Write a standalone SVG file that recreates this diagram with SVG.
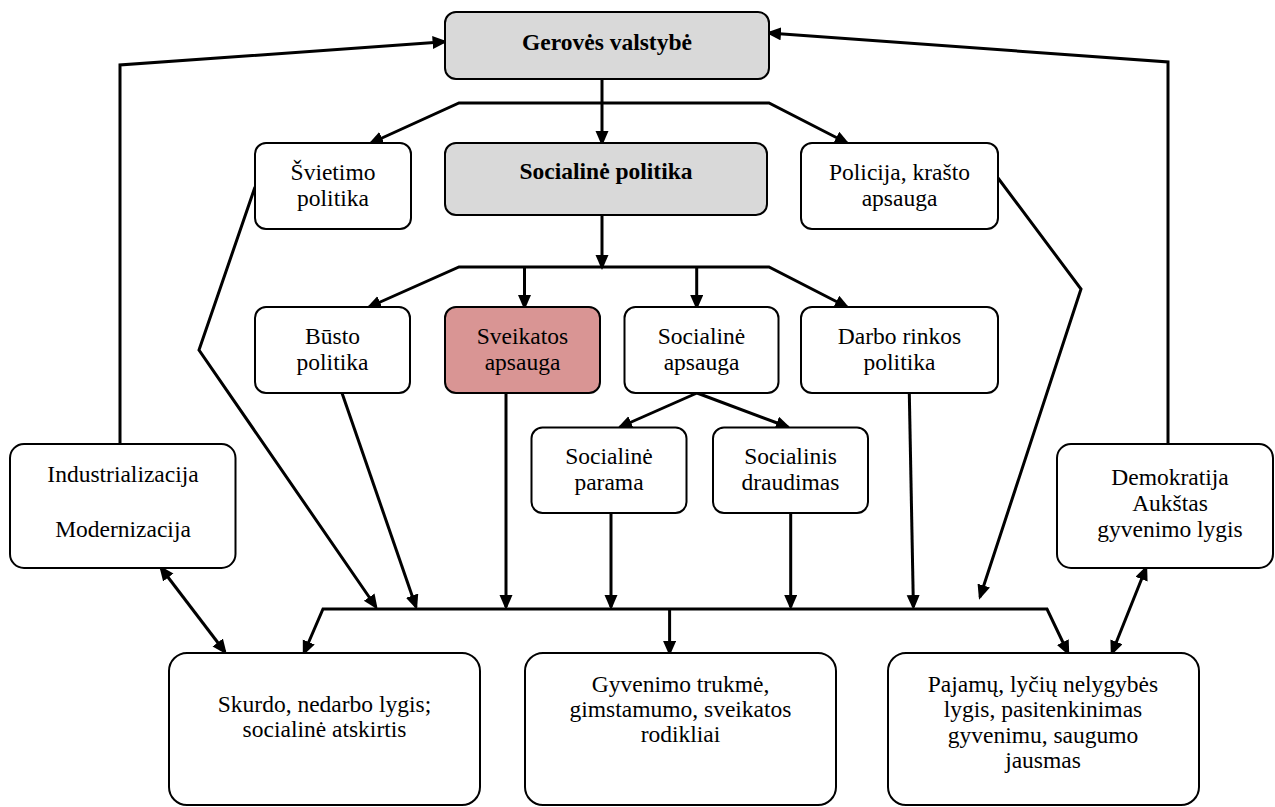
<svg xmlns="http://www.w3.org/2000/svg" width="1275" height="807" viewBox="0 0 1275 807" font-family="'Liberation Serif', 'Times New Roman', 'DejaVu Serif', serif">
<defs>
<marker id="ah" markerUnits="userSpaceOnUse" markerWidth="16" markerHeight="14" refX="12" refY="6.5" orient="auto-start-reverse">
<path d="M0,0 L15,6.5 L0,13 z" fill="#000"/>
</marker>
<style>
.box{fill:#fff;stroke:#000;stroke-width:2}
.gray{fill:#d9d9d9}
.pink{fill:#d99594}
.t{font-family:'Liberation Serif','Times New Roman','DejaVu Serif',serif;font-size:23.5px;fill:#000;text-anchor:middle}
.b{font-weight:bold}
.c{fill:none;stroke:#000;stroke-width:3;stroke-linejoin:miter}
.a{marker-end:url(#ah)}
.d{marker-start:url(#ah);marker-end:url(#ah)}
</style>
</defs>
<rect width="1275" height="807" fill="#fff"/>
<g id="connectors">
<path class="c a" d="M602,79 L602,143"/>
<path class="c d" d="M847,143 L769,103 L459,103 L371,143"/>
<path class="c a" d="M602,215 L602,267"/>
<path class="c d" d="M847,307 L769,267 L459,267 L369,307"/>
<path class="c a" d="M524.5,267 L524.5,307"/>
<path class="c a" d="M696.7,267 L696.7,307"/>
<path class="c a" d="M697,393 L620,427"/>
<path class="c a" d="M697,393 L788,427"/>
<path class="c d" d="M1068,653 L1047,609 L323,609 L304,653"/>
<path class="c a" d="M669.6,609 L669.6,653"/>
<path class="c a" d="M255,187 L199,350 L376,607"/>
<path class="c a" d="M342,393 L416,607"/>
<path class="c a" d="M506,393 L506,607"/>
<path class="c a" d="M611,513 L611,607"/>
<path class="c a" d="M790.7,513 L790.7,607"/>
<path class="c a" d="M909.3,393 L913.4,607"/>
<path class="c a" d="M998,178 L1081,289 L980,597"/>
<path class="c a" d="M120,444 L120,65 L444.6,41.7"/>
<path class="c a" d="M1168,444 L1168,62 L769,33"/>
<path class="c d" d="M161,568 L225,652"/>
<path class="c d" d="M1146,568 L1112,653"/>
</g>
<g id="n-gerove">
<rect class="box gray" x="445" y="12" width="324" height="67" rx="11"/>
<text class="t b" x="607" y="49.5">Gerovės valstybė</text>
</g>
<g id="n-socpol">
<rect class="box gray" x="445" y="143" width="322" height="72" rx="11"/>
<text class="t b" x="606" y="179">Socialinė politika</text>
</g>
<g id="n-svietimo">
<rect class="box" x="255" y="143" width="156" height="86" rx="11"/>
<text class="t" x="333" y="179.5">Švietimo</text>
<text class="t" x="333" y="206">politika</text>
</g>
<g id="n-policija">
<rect class="box" x="801" y="143" width="197" height="86" rx="11"/>
<text class="t" x="899.5" y="179.5">Policija, krašto</text>
<text class="t" x="899.5" y="206">apsauga</text>
</g>
<g id="n-busto">
<rect class="box" x="255" y="307" width="155" height="86" rx="11"/>
<text class="t" x="332.5" y="343.5">Būsto</text>
<text class="t" x="332.5" y="370">politika</text>
</g>
<g id="n-sveikatos">
<rect class="box pink" x="445" y="307" width="155" height="86" rx="11"/>
<text class="t" x="522.5" y="343.5">Sveikatos</text>
<text class="t" x="522.5" y="370">apsauga</text>
</g>
<g id="n-socapsauga">
<rect class="box" x="624.5" y="307" width="154" height="86" rx="11"/>
<text class="t" x="701.5" y="343.5">Socialinė</text>
<text class="t" x="701.5" y="370">apsauga</text>
</g>
<g id="n-darbo">
<rect class="box" x="801" y="307" width="197" height="86" rx="11"/>
<text class="t" x="899.5" y="343.5">Darbo rinkos</text>
<text class="t" x="899.5" y="370">politika</text>
</g>
<g id="n-parama">
<rect class="box" x="531.5" y="427.5" width="155" height="85.5" rx="11"/>
<text class="t" x="609" y="463.5">Socialinė</text>
<text class="t" x="609" y="490">parama</text>
</g>
<g id="n-draudimas">
<rect class="box" x="713" y="427.5" width="155" height="85.5" rx="11"/>
<text class="t" x="790.5" y="463.5">Socialinis</text>
<text class="t" x="790.5" y="490">draudimas</text>
</g>
<g id="n-industrializacija">
<rect class="box" x="10" y="444" width="225.5" height="124" rx="14"/>
<text class="t" x="123" y="481.7">Industrializacija</text>
<text class="t" x="123" y="536.7">Modernizacija</text>
</g>
<g id="n-demokratija">
<rect class="box" x="1057" y="444" width="216" height="124" rx="14"/>
<text class="t" x="1170" y="485">Demokratija</text>
<text class="t" x="1170" y="511">Aukštas</text>
<text class="t" x="1170" y="537">gyvenimo lygis</text>
</g>
<g id="n-skurdo">
<rect class="box" x="169" y="653" width="311" height="152" rx="18"/>
<text class="t" x="324.5" y="711.7">Skurdo, nedarbo lygis;</text>
<text class="t" x="324.5" y="736.7">socialinė atskirtis</text>
</g>
<g id="n-gyvenimo">
<rect class="box" x="525" y="653" width="311" height="152" rx="18"/>
<text class="t" x="680.5" y="691.7">Gyvenimo trukmė,</text>
<text class="t" x="680.5" y="716.7">gimstamumo, sveikatos</text>
<text class="t" x="680.5" y="741.7">rodikliai</text>
</g>
<g id="n-pajamu">
<rect class="box" x="888" y="653" width="311" height="152" rx="18"/>
<text class="t" x="1043" y="691.7">Pajamų, lyčių nelygybės</text>
<text class="t" x="1043" y="717">lygis, pasitenkinimas</text>
<text class="t" x="1043" y="742.5">gyvenimu, saugumo</text>
<text class="t" x="1043" y="768">jausmas</text>
</g>
</svg>
